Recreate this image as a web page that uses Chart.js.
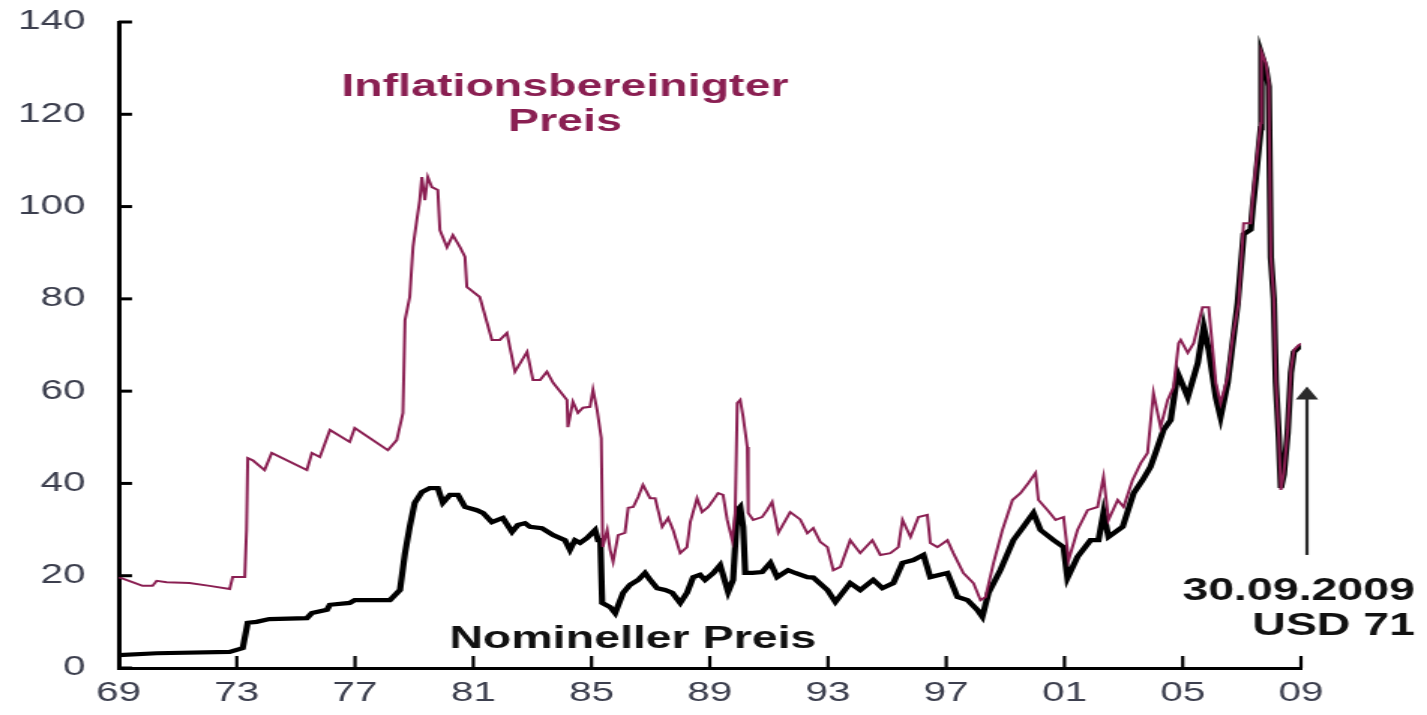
<!DOCTYPE html>
<html lang="de">

<head>
    <meta charset="UTF-8">
    <title>Ölpreis nominal und inflationsbereinigt</title>
    <script src="https://cdn.jsdelivr.net/npm/chart.js"></script>
    <style>
        body {
            margin: 0;
            background: #ffffff;
        }
    </style>
</head>

<body>
    <!-- das Original ist horizontal gestreckt, deshalb wird die Leinwand breiter angezeigt -->
    <canvas id="oelChart" width="951" height="715" style="display: block; width: 1427px; height: 715px;"></canvas>

    <script>
        // Achsen
        const xTickValues = [1969, 1973, 1977, 1981, 1985, 1989, 1993, 1997, 2001, 2005, 2009];
        const xTickLabels = ['69', '73', '77', '81', '85', '89', '93', '97', '01', '05', '09'];
        const yTickValues = [0, 20, 40, 60, 80, 100, 120, 140];

        // Inflationsbereinigter Preis (USD)
        const realYears = [1969.0, 1969.47, 1969.81, 1970.15, 1970.29, 1970.63, 1971.4, 1972.08, 1972.76, 1972.86,
            1973.27, 1973.33, 1973.37, 1973.54, 1973.94, 1974.18, 1975.37, 1975.54, 1975.81, 1976.15,
            1976.82, 1976.99, 1978.11, 1978.41, 1978.62, 1978.69, 1978.85, 1978.96, 1979.09, 1979.19,
            1979.26, 1979.36, 1979.46, 1979.6, 1979.8, 1979.87, 1980.11, 1980.31, 1980.55, 1980.72,
            1980.78, 1981.22, 1981.63, 1981.9, 1982.14, 1982.41, 1982.82, 1983.02, 1983.26, 1983.49,
            1983.7, 1984.17, 1984.2, 1984.37, 1984.54, 1984.71, 1984.95, 1985.05, 1985.19, 1985.33,
            1985.38, 1985.53, 1985.63, 1985.73, 1985.9, 1986.13, 1986.24, 1986.41, 1986.58, 1986.74,
            1986.98, 1987.15, 1987.39, 1987.59, 1987.76, 1988.0, 1988.23, 1988.34, 1988.57, 1988.74,
            1988.95, 1989.12, 1989.28, 1989.45, 1989.59, 1989.76, 1989.86, 1989.93, 1990.03, 1990.13,
            1990.27, 1990.3, 1990.47, 1990.77, 1990.94, 1991.11, 1991.32, 1991.72, 1992.06, 1992.3,
            1992.5, 1992.74, 1992.98, 1993.18, 1993.42, 1993.75, 1994.09, 1994.5, 1994.77, 1995.11,
            1995.38, 1995.52, 1995.79, 1996.06, 1996.36, 1996.46, 1996.7, 1997.04, 1997.24, 1997.58,
            1997.92, 1998.16, 1998.33, 1998.6, 1998.9, 1999.24, 1999.51, 1999.78, 2000.02, 2000.12,
            2000.43, 2000.7, 2000.97, 2001.14, 2001.44, 2001.78, 2002.12, 2002.32, 2002.49, 2002.8,
            2003.0, 2003.3, 2003.58, 2003.81, 2004.01, 2004.25, 2004.49, 2004.69, 2004.86, 2004.93,
            2005.17, 2005.37, 2005.67, 2005.88, 2005.95, 2006.12, 2006.28, 2006.52, 2006.69, 2006.89,
            2007.06, 2007.3, 2007.37, 2007.47, 2007.64, 2007.66, 2007.81, 2007.91, 2007.98, 2008.08,
            2008.15, 2008.25, 2008.32, 2008.42, 2008.55, 2008.66, 2008.76, 2008.93, 2009.06];
        const realValues = [19.7, 18.6, 17.8, 17.8, 18.9, 18.6, 18.4, 17.8, 17.1, 19.7,
            19.7, 30, 45.5, 45, 42.9, 46.6, 42.9, 46.6, 45.7, 51.6,
            49, 52, 47.2, 49.4, 55.3, 75.4, 80.4, 91.2, 97.1, 101.4,
            106.4, 101.4, 106.4, 104.2, 103.6, 94.9, 91.2, 93.8, 91.2, 89.1,
            82.6, 80.4, 71.1, 71.1, 72.6, 64.2, 68.5, 62.4, 62.4, 64.2,
            61.8, 58.1, 52.2, 57.7, 55.3, 56.4, 56.6, 60.3, 55.9, 49.8,
            26.2, 29.9, 25.6, 23, 28.8, 29.3, 34.7, 34.9, 37.1, 39.7,
            36.8, 36.8, 30.6, 32.5, 29.9, 24.9, 26.2, 31.6, 36.8, 33.8,
            34.9, 36.4, 37.9, 37.5, 32.1, 27.7, 33.6, 57.4, 58.1, 54.4,
            47.9, 33.6, 32.1, 32.7, 34.2, 36, 29.3, 33.8, 32.2, 29.2,
            30.3, 27.3, 26.2, 21.2, 21.9, 27.7, 24.9, 27.7, 24.5, 24.9,
            26.2, 32.1, 28.4, 32.7, 33.2, 27.1, 26.2, 27.7, 24.9, 20.6,
            18.4, 14.7, 15.4, 22.8, 29.9, 36.4, 37.9, 40.1, 42.3, 36.4,
            34.2, 32.1, 32.7, 23.4, 29.9, 34.2, 34.9, 41.4, 32.1, 36.4,
            34.9, 40.7, 44.4, 46.6, 59.6, 52.2, 58.1, 60.9, 70.4, 71.1,
            68.3, 70.4, 78.2, 78.2, 73.3, 61.8, 57.4, 63.1, 71.7, 79.1,
            96.4, 96.4, 102.1, 108.6, 118.1, 133.5, 131.1, 126.8, 89.1, 80.4,
            62.4, 50.1, 38.6, 42.3, 51.6, 64.6, 68.9, 70, 70.4];

        // Nomineller Preis (USD)
        const nomYears = [1969.0, 1970.29, 1972.76, 1973.2, 1973.37, 1973.67, 1974.1, 1975.37, 1975.54, 1976.05,
            1976.15, 1976.82, 1976.99, 1978.18, 1978.52, 1978.69, 1978.85, 1979.02, 1979.26, 1979.53,
            1979.8, 1979.97, 1980.21, 1980.48, 1980.72, 1981.12, 1981.33, 1981.63, 1982.0, 1982.31,
            1982.51, 1982.75, 1982.92, 1983.32, 1983.7, 1984.1, 1984.27, 1984.44, 1984.61, 1984.85,
            1985.12, 1985.22, 1985.3, 1985.36, 1985.63, 1985.8, 1986.07, 1986.3, 1986.58, 1986.81,
            1986.98, 1987.22, 1987.49, 1987.73, 1988.0, 1988.23, 1988.44, 1988.67, 1988.84, 1989.12,
            1989.35, 1989.62, 1989.79, 1989.93, 1990.03, 1990.13, 1990.2, 1990.44, 1990.77, 1991.05,
            1991.28, 1991.65, 1991.89, 1992.3, 1992.5, 1992.98, 1993.25, 1993.75, 1994.09, 1994.53,
            1994.84, 1995.21, 1995.52, 1995.89, 1996.23, 1996.46, 1997.04, 1997.38, 1997.72, 1998.05,
            1998.22, 1998.43, 1998.83, 1999.27, 1999.61, 1999.95, 2000.19, 2000.63, 2000.97, 2001.1,
            2001.44, 2001.88, 2002.15, 2002.32, 2002.49, 2002.97, 2003.34, 2003.64, 2003.91, 2004.08,
            2004.35, 2004.59, 2004.83, 2004.93, 2005.17, 2005.51, 2005.71, 2005.88, 2006.12, 2006.28,
            2006.52, 2006.86, 2007.06, 2007.3, 2007.37, 2007.47, 2007.64, 2007.66, 2007.81, 2007.91,
            2007.98, 2008.08, 2008.15, 2008.25, 2008.32, 2008.42, 2008.55, 2008.66, 2008.76, 2008.93,
            2009.06];
        const nomValues = [2.8, 3.2, 3.5, 4.3, 9.8, 10, 10.6, 10.8, 11.9, 12.6,
            13.7, 14.1, 14.7, 14.7, 16.9, 24.9, 30.6, 35.8, 38.1, 39,
            39, 35.8, 37.5, 37.5, 34.9, 34.2, 33.6, 31.6, 32.5, 29.5,
            31, 31.4, 30.6, 30.3, 28.8, 27.7, 25.6, 27.7, 27.1, 28.2,
            29.9, 27.7, 27.7, 14.1, 13.2, 11.9, 16.3, 18, 19.1, 20.6,
            19.1, 17.3, 16.9, 16.3, 14.1, 16.3, 19.7, 20.2, 19.1, 20.6,
            22.3, 16.5, 19.1, 34.2, 34.9, 30.6, 20.6, 20.6, 20.8, 22.8,
            19.7, 21.2, 20.6, 19.7, 19.6, 16.9, 14.3, 18.4, 16.9, 19.1,
            17.3, 18.4, 22.8, 23.4, 24.5, 19.7, 20.6, 15.4, 14.7, 12.6,
            11.1, 16.3, 21.2, 27.7, 30.6, 33.6, 29.9, 27.7, 26.2, 19.5,
            24.1, 27.7, 27.7, 33.6, 28.4, 30.6, 37.9, 40.7, 43.6, 46.6,
            51.6, 53.7, 63.9, 62.4, 58.7, 66.1, 73.9, 68.9, 58.7, 54.4,
            61.8, 79.1, 94, 95, 100, 106, 117, 133, 130, 126,
            89, 80, 62, 50, 39, 42, 51, 64, 68.5, 69.5,
            70];

        const MAROON = '#8a1f52';
        const TICK_COLOR = '#3c3f4e';

        const realPoints = realYears.map((jahr, i) => ({ x: jahr, y: realValues[i] }));
        const nomPoints = nomYears.map((jahr, i) => ({ x: jahr, y: nomValues[i] }));

        // Innenliegende Tickstriche, Beschriftungen und Pfeil
        const beschriftung = {
            id: 'beschriftung',
            afterDraw(chart) {
                const ctx = chart.ctx;
                const xs = chart.scales.x;
                const ys = chart.scales.y;
                const area = chart.chartArea;

                ctx.save();
                ctx.strokeStyle = '#000';
                ctx.lineCap = 'butt';

                ctx.lineWidth = 3;
                yTickValues.forEach(v => {
                    const py = ys.getPixelForValue(v);
                    ctx.beginPath();
                    ctx.moveTo(area.left, py);
                    ctx.lineTo(area.left + 9, py);
                    ctx.stroke();
                });

                ctx.lineWidth = 2.2;
                xTickValues.slice(1).forEach(v => {
                    const px = xs.getPixelForValue(v);
                    ctx.beginPath();
                    ctx.moveTo(px, area.bottom);
                    ctx.lineTo(px, area.bottom - 12);
                    ctx.stroke();
                });

                // Texte
                ctx.font = 'bold 31px "Liberation Sans", Arial, sans-serif';
                ctx.textBaseline = 'alphabetic';
                ctx.textAlign = 'center';
                ctx.fillStyle = MAROON;
                ctx.fillText('Inflationsbereinigter', xs.getPixelForValue(1984.1), ys.getPixelForValue(124));
                ctx.fillText('Preis', xs.getPixelForValue(1984.1), ys.getPixelForValue(116.4));

                ctx.fillStyle = '#111';
                ctx.fillText('Nomineller Preis', xs.getPixelForValue(1986.4), ys.getPixelForValue(4.3));

                ctx.textAlign = 'right';
                ctx.fillText('30.09.2009', xs.getPixelForValue(2012.86), ys.getPixelForValue(14.7));
                ctx.fillText('USD 71', xs.getPixelForValue(2012.86), ys.getPixelForValue(7.2));

                // Pfeil auf den letzten Wert
                const ax = xs.getPixelForValue(2009) + 4;
                ctx.strokeStyle = '#2b2b2b';
                ctx.fillStyle = '#2b2b2b';
                ctx.lineWidth = 2.2;
                ctx.beginPath();
                ctx.moveTo(ax, ys.getPixelForValue(24.5));
                ctx.lineTo(ax, ys.getPixelForValue(58.5));
                ctx.stroke();
                ctx.beginPath();
                ctx.moveTo(ax, ys.getPixelForValue(61));
                ctx.lineTo(ax - 7.5, ys.getPixelForValue(58.2));
                ctx.lineTo(ax + 7.5, ys.getPixelForValue(58.2));
                ctx.closePath();
                ctx.fill();

                ctx.restore();
            }
        };

        const canvas = document.getElementById('oelChart');
        const ctx = canvas.getContext('2d');

        new Chart(ctx, {
            type: 'line',
            data: {
                datasets: [{
                    label: 'Inflationsbereinigter Preis',
                    data: realPoints,
                    borderColor: MAROON,
                    borderWidth: 2,
                    pointRadius: 0,
                    tension: 0,
                    fill: false
                }, {
                    label: 'Nomineller Preis',
                    data: nomPoints,
                    borderColor: '#000',
                    borderWidth: 4.2,
                    pointRadius: 0,
                    tension: 0,
                    fill: false
                }]
            },
            options: {
                responsive: false,
                animation: false,
                devicePixelRatio: 1,
                layout: {
                    padding: { top: 22, right: 84, left: 0, bottom: 0 }
                },
                plugins: {
                    legend: { display: false },
                    tooltip: { enabled: false }
                },
                scales: {
                    x: {
                        type: 'linear',
                        min: 1969,
                        max: 2009,
                        afterBuildTicks: scale => {
                            scale.ticks = xTickValues.map(v => ({ value: v }));
                        },
                        afterFit: scale => {
                            scale.height = 47;
                        },
                        grid: { display: false, drawTicks: false },
                        border: { color: '#000', width: 3 },
                        ticks: {
                            autoSkip: false,
                            maxRotation: 0,
                            padding: 9,
                            color: TICK_COLOR,
                            font: { family: '"Liberation Sans", Arial, sans-serif', size: 27 },
                            callback: value => xTickLabels[xTickValues.indexOf(value)]
                        }
                    },
                    y: {
                        min: 0,
                        max: 140,
                        afterBuildTicks: scale => {
                            scale.ticks = yTickValues.map(v => ({ value: v }));
                        },
                        afterFit: scale => {
                            scale.width = 79;
                            // die Tick-Abstände sollen nicht oben/unten als Rand zählen
                            scale.paddingTop = 0;
                            scale.paddingBottom = 0;
                        },
                        grid: { display: false, drawTicks: false },
                        border: { color: '#000', width: 3 },
                        ticks: {
                            padding: 22,
                            color: TICK_COLOR,
                            font: { family: '"Liberation Sans", Arial, sans-serif', size: 27 }
                        }
                    }
                }
            },
            plugins: [beschriftung]
        });

        // Streckung sicherstellen, falls Chart.js die Anzeigegröße überschreibt
        canvas.style.width = '1427px';
        canvas.style.height = '715px';
    </script>
</body>

</html>
